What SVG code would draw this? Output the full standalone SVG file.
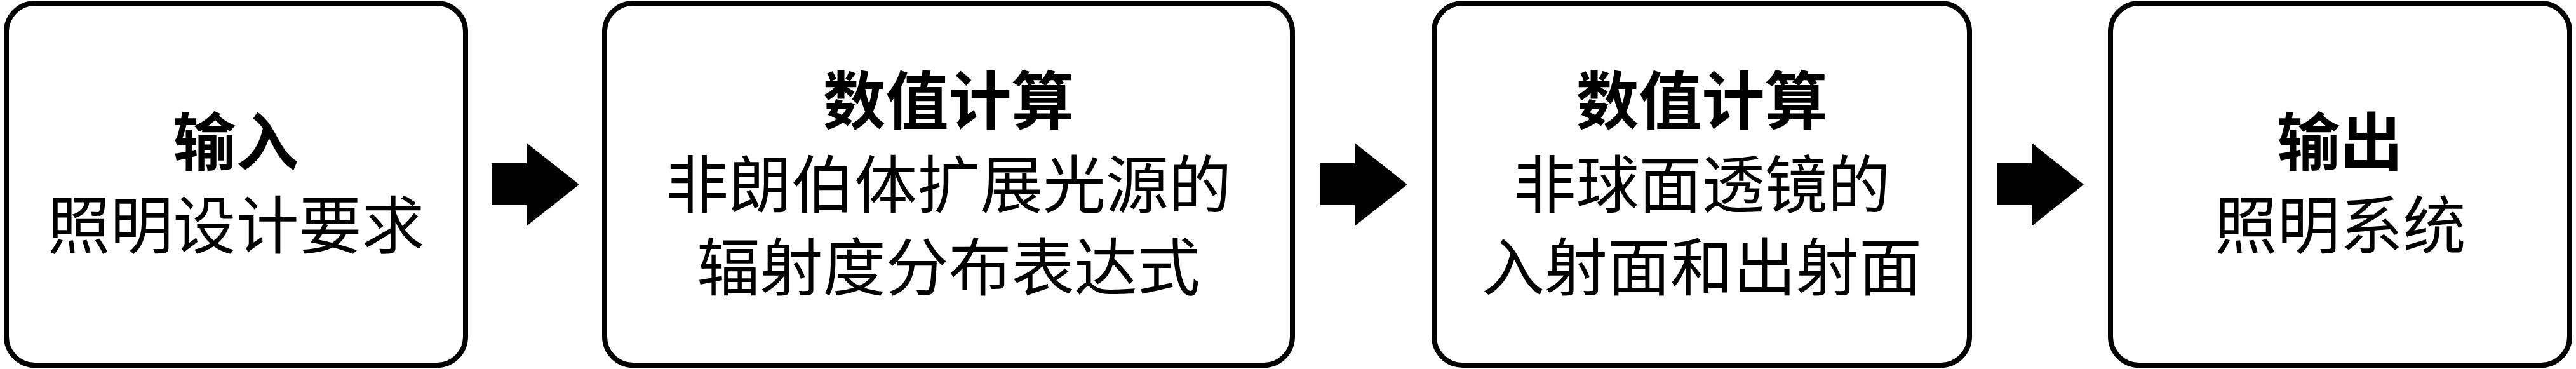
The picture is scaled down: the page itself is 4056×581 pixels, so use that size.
<svg xmlns="http://www.w3.org/2000/svg" width="4056" height="581" viewBox="0 0 4056 581">
<defs>
<style>
.box{fill:#fff;stroke:#000;stroke-width:8}
.t{font-family:"Liberation Serif","Noto Sans CJK SC",serif;font-size:99px;fill:#000;text-anchor:middle}
.b{font-weight:bold}
.arr{fill:#000}
</style>
</defs>
<rect width="4056" height="581" fill="#fff"/>
<g id="node-input">
<rect class="box" x="10" y="5" width="723" height="570" rx="45" ry="45"/>
<text class="t b" x="371.5" y="260">输入</text>
<text class="t" x="371.5" y="391">照明设计要求</text>
</g>
<g id="node-calc1">
<rect class="box" x="952" y="5" width="1083" height="570" rx="45" ry="45"/>
<text class="t b" x="1493.5" y="195">数值计算</text>
<text class="t" x="1493.5" y="327">非朗伯体扩展光源的</text>
<text class="t" x="1493.5" y="457">辐射度分布表达式</text>
</g>
<g id="node-calc2">
<rect class="box" x="2258" y="5" width="843" height="570" rx="45" ry="45"/>
<text class="t b" x="2679.5" y="195">数值计算</text>
<text class="t" x="2679.5" y="327">非球面透镜的</text>
<text class="t" x="2679.5" y="457">入射面和出射面</text>
</g>
<g id="node-output">
<rect class="box" x="3323" y="5" width="723" height="570" rx="45" ry="45"/>
<text class="t b" x="3684.5" y="260">输出</text>
<text class="t" x="3684.5" y="391">照明系统</text>
</g>
<g id="connectors">
<polygon class="arr" points="774,257 829,257 829,225 912,290.5 829,356 829,323 774,323"/>
<polygon class="arr" points="2079,257 2133,257 2133,225 2216,290.5 2133,356 2133,323 2079,323"/>
<polygon class="arr" points="3144,257 3199,257 3199,225 3281,290.5 3199,356 3199,323 3144,323"/>
</g>
</svg>
